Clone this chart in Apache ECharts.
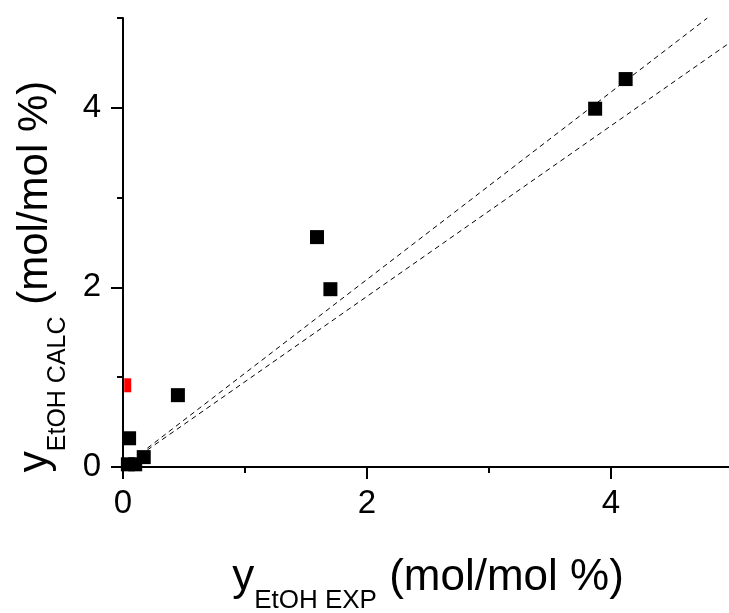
<!DOCTYPE html>
<html>
<head>
<meta charset="utf-8">
<script src="https://cdn.jsdelivr.net/npm/echarts@6/dist/echarts.min.js"></script>
<style>
html,body{margin:0;padding:0;background:#fff;}
#chart{width:729px;height:613px;}
</style>
</head>
<body>
<div id="chart"></div>
<script>
// Data
var expBlack = [4.12, 3.87, 1.59, 1.70, 0.45, 0.05, 0.17, 0.04, 0.10];
var calcBlack = [4.32, 3.99, 2.56, 1.98, 0.80, 0.32, 0.11, 0.03, 0.03];
var expRed = [0.01];
var calcRed = [0.91];
// Dashed +/-5% reference lines (endpoints)
var upperLineX = [0.20, 4.79];
var upperLineY = [0.21, 5.00];
var lowerLineX = [0.20, 5.00];
var lowerLineY = [0.19, 4.75];
var majorTicks = [0, 2, 4];
var minorTicks = [1, 3, 5];

function pairs(xs, ys) { return xs.map(function (x, i) { return [x, ys[i]]; }); }

var FONT = "'Liberation Sans', Arial, sans-serif";
var chart = echarts.init(document.getElementById('chart'), null, {renderer: 'canvas'});

var richX = {
  a: {fontSize: 44, fontFamily: FONT, color: '#000', lineHeight: 46},
  b: {fontSize: 26, fontFamily: FONT, color: '#000', lineHeight: 46, padding: [46, 0, 0, 0]}
};
var richY = {
  a: {fontSize: 42, fontFamily: FONT, color: '#000', lineHeight: 44},
  b: {fontSize: 25, fontFamily: FONT, color: '#000', lineHeight: 44, padding: [46, 0, 0, 0]}
};

function baseAxis(extra) {
  var o = {
    type: 'value', min: 0, max: 5,
    axisLine: {show: true, lineStyle: {color: '#000', width: 2}},
    splitLine: {show: false},
    axisTick: {show: true, inside: false, length: 12, lineStyle: {color: '#000', width: 2}, customValues: majorTicks},
    axisLabel: {show: true, customValues: majorTicks, fontSize: 33, fontFamily: FONT, color: '#000'}
  };
  for (var k in extra) o[k] = extra[k];
  return o;
}
function minorAxis(pos) {
  return {
    type: 'value', min: 0, max: 5, position: pos,
    axisLine: {show: false},
    splitLine: {show: false},
    axisTick: {show: true, length: 6, lineStyle: {color: '#000', width: 2}, customValues: minorTicks},
    axisLabel: {show: false}
  };
}

var xMain = baseAxis({
  position: 'bottom',
  name: '{a|y}{b|EtOH EXP}{a| (mol/mol %)}',
  nameLocation: 'middle', nameGap: 88,
  nameTextStyle: {rich: richX}
});
xMain.axisLabel.margin = 20;
var yMain = baseAxis({
  position: 'left',
  name: '{a|y}{b|EtOH CALC}{a| (mol/mol %)}',
  nameLocation: 'middle', nameGap: 66, nameRotate: 90,
  nameTextStyle: {rich: richY, padding: [0, 68, 0, 0]}
});
yMain.axisLabel.margin = 22;

chart.setOption({
  animation: false,
  backgroundColor: '#fff',
  grid: {left: 123, right: -4, top: 18, bottom: 146, containLabel: false, outerBoundsMode: 'none'},
  xAxis: [xMain, minorAxis('bottom')],
  yAxis: [yMain, minorAxis('left')],
  series: [
    {type: 'line', data: pairs(upperLineX, upperLineY), showSymbol: false, symbol: 'none',
     lineStyle: {color: '#000', width: 1, type: [5, 4]}, z: 1},
    {type: 'line', data: pairs(lowerLineX, lowerLineY), showSymbol: false, symbol: 'none',
     lineStyle: {color: '#000', width: 1, type: [5, 4]}, z: 1},
    {type: 'scatter', data: pairs(expBlack, calcBlack), symbol: 'rect', symbolSize: 14,
     itemStyle: {color: '#000', opacity: 1}, z: 3},
    {type: 'scatter', data: pairs(expRed, calcRed), symbol: 'rect', symbolSize: [7, 14], symbolOffset: [3.5, 0],
     itemStyle: {color: '#ff0000', opacity: 1}, z: 3}
  ]
});
</script>
</body>
</html>
